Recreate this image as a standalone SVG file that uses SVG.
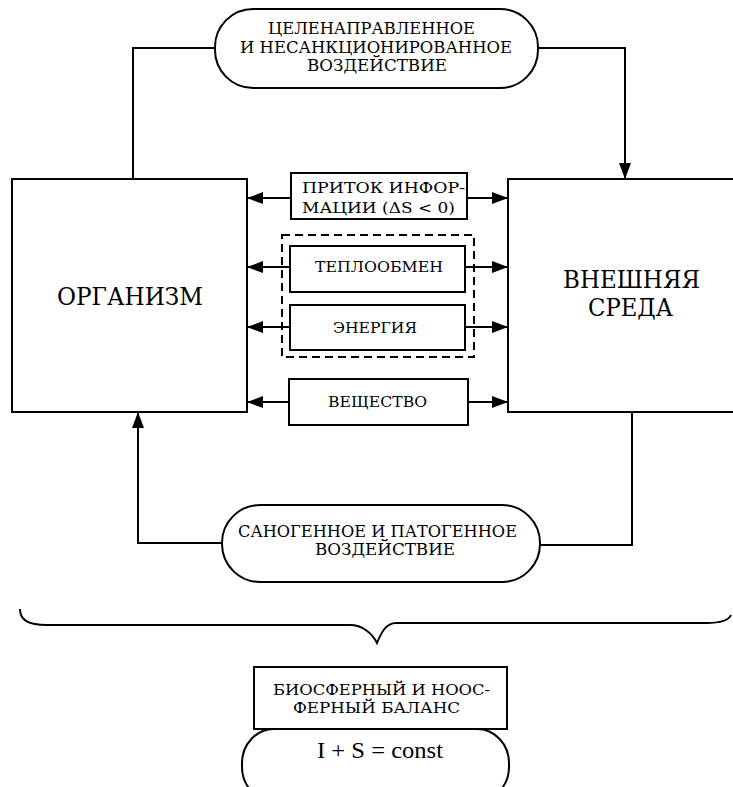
<svg xmlns="http://www.w3.org/2000/svg" width="733" height="787" viewBox="0 0 733 787">
<style>
.b{fill:#fff;stroke:#000;stroke-width:2}
.c{fill:none;stroke:#000;stroke-width:2}
.d{fill:none;stroke:#000;stroke-width:2;stroke-dasharray:8,5}
.m{text-anchor:middle}
</style>
<defs>
<marker id="a" markerUnits="userSpaceOnUse" markerWidth="16" markerHeight="12" refX="16" refY="6" orient="auto">
<path d="M0,0 L16,6 L0,12 z" fill="#000"/>
</marker>
</defs>
<g id="connectors">
<path class="c" d="M215,48 H133 V179"/>
<path class="c" d="M538,48 H625 V179" marker-end="url(#a)"/>
<path class="c" d="M222,543 H138 V412" marker-end="url(#a)"/>
<path class="c" d="M540,545 H632 V412"/>
<path class="c" d="M291,198 H247" marker-end="url(#a)"/>
<path class="c" d="M467,198 H508" marker-end="url(#a)"/>
<path class="c" d="M290,267 H247" marker-end="url(#a)"/>
<path class="c" d="M465,267 H508" marker-end="url(#a)"/>
<path class="c" d="M290,327 H247" marker-end="url(#a)"/>
<path class="c" d="M465,327 H508" marker-end="url(#a)"/>
<path class="c" d="M289,402 H247" marker-end="url(#a)"/>
<path class="c" d="M468,402 H508" marker-end="url(#a)"/>
</g>
<g font-family="DejaVu Serif, Liberation Serif, serif" fill="#000">
<g id="organism">
<rect class="b" x="12" y="179" width="235" height="233"/>
<text class="m" x="130" y="305" font-size="24" textLength="146" lengthAdjust="spacingAndGlyphs">ОРГАНИЗМ</text>
</g>
<g id="environment">
<rect class="b" x="508" y="179" width="250" height="233"/>
<text class="m" x="631.5" y="288" font-size="24" textLength="137" lengthAdjust="spacingAndGlyphs">ВНЕШНЯЯ</text>
<text class="m" x="630.5" y="316" font-size="24" textLength="85" lengthAdjust="spacingAndGlyphs">СРЕДА</text>
</g>
<g id="purposeful">
<rect class="b" x="215" y="9" width="323" height="79" rx="38" ry="38"/>
<text class="m" x="371.5" y="34" font-size="16.5" textLength="207" lengthAdjust="spacingAndGlyphs">ЦЕЛЕНАПРАВЛЕННОЕ</text>
<text class="m" x="376" y="53" font-size="16.5" textLength="272" lengthAdjust="spacingAndGlyphs">И НЕСАНКЦИОНИРОВАННОЕ</text>
<text class="m" x="377" y="71" font-size="16.5" textLength="140" lengthAdjust="spacingAndGlyphs">ВОЗДЕЙСТВИЕ</text>
</g>
<g id="info">
<rect class="b" x="291" y="173" width="176" height="46"/>
<text x="302" y="193" font-size="15.5" textLength="163" lengthAdjust="spacingAndGlyphs">ПРИТОК ИНФОР-</text>
<text x="302" y="213" font-size="15.5" textLength="153" lengthAdjust="spacingAndGlyphs">МАЦИИ (ΔS &lt; 0)</text>
</g>
<g id="group-dashed">
<rect class="d" x="282" y="235" width="192" height="122"/>
</g>
<g id="heat">
<rect class="b" x="290" y="246" width="175" height="46"/>
<text class="m" x="379" y="272" font-size="15.5" textLength="128" lengthAdjust="spacingAndGlyphs">ТЕПЛООБМЕН</text>
</g>
<g id="energy">
<rect class="b" x="290" y="305" width="175" height="45"/>
<text class="m" x="375" y="333" font-size="15" textLength="84" lengthAdjust="spacingAndGlyphs">ЭНЕРГИЯ</text>
</g>
<g id="substance">
<rect class="b" x="289" y="379" width="179" height="46"/>
<text class="m" x="377.5" y="407" font-size="15.5" textLength="99" lengthAdjust="spacingAndGlyphs">ВЕЩЕСТВО</text>
</g>
<g id="sanogenic">
<rect class="b" x="222" y="505" width="318" height="77" rx="38" ry="38"/>
<text class="m" x="377.5" y="537" font-size="16.5" textLength="279" lengthAdjust="spacingAndGlyphs">САНОГЕННОЕ И ПАТОГЕННОЕ</text>
<text class="m" x="385" y="555" font-size="16.5" textLength="140" lengthAdjust="spacingAndGlyphs">ВОЗДЕЙСТВИЕ</text>
</g>
<g id="brace">
<path class="c" d="M20,609 C20,620 28,625 47,625 H350 C362,625 372,633 377,643 C381,633 386,623 396,623 H706 C720,623 729,620 731,615"/>
</g>
<g id="balance">
<rect class="b" x="254" y="667" width="253" height="62"/>
<text class="m" x="381.5" y="695" font-size="15.5" textLength="217" lengthAdjust="spacingAndGlyphs">БИОСФЕРНЫЙ И НООС-</text>
<text class="m" x="376.5" y="713" font-size="15.5" textLength="167" lengthAdjust="spacingAndGlyphs">ФЕРНЫЙ БАЛАНС</text>
</g>
<g id="formula">
<rect class="b" x="242" y="729" width="267" height="72" rx="32" ry="34"/>
<text class="m" x="380" y="758" font-size="24" font-family="Liberation Serif, serif" textLength="126" lengthAdjust="spacingAndGlyphs">I + S = const</text>
</g>
</g>
</svg>
